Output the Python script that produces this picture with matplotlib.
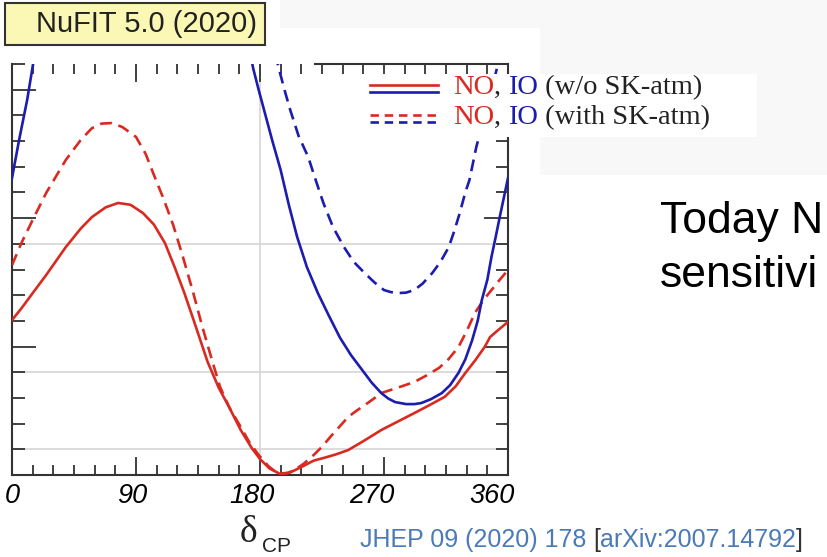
import numpy as np
import matplotlib.pyplot as plt
from matplotlib.patches import Rectangle
from matplotlib.transforms import ScaledTranslation

# delta_CP (deg) and Delta chi^2
no_wo_x = [0, 7, 15, 25, 39, 50, 58, 68, 77, 86, 95, 103, 111, 118, 125, 132, 137, 142, 150, 158, 166, 174,
           180, 187, 195, 202, 210, 219, 226, 235, 244, 256, 268, 280, 292, 303, 314, 322, 329, 336, 343, 347, 353, 360]
no_wo_y = [6.03, 6.5, 7.08, 7.8, 8.87, 9.6, 10.04, 10.42, 10.59, 10.52, 10.20, 9.75, 9.03, 8.1, 7.1, 6.0, 5.2, 4.4,
           3.4, 2.6, 1.75, 1.05, 0.62, 0.25, 0.03, 0.1, 0.31, 0.56, 0.66, 0.8, 0.97, 1.35, 1.75, 2.08, 2.41, 2.72,
           3.04, 3.45, 3.97, 4.45, 4.98, 5.37, 5.65, 5.96]

no_with_x = [0, 7, 15, 25, 39, 50, 58, 65, 72, 80, 90, 97, 103, 110, 117, 124, 131, 138, 145, 151, 158, 166, 172,
             179, 186, 193, 200, 205, 212, 219, 225, 231, 238, 244, 250, 256, 262, 268, 280, 292, 301, 310, 317,
             324, 330, 336, 342, 348, 354, 360]
no_with_y = [8.17, 9.05, 9.93, 11.0, 12.26, 13.05, 13.5, 13.68, 13.70, 13.55, 13.16, 12.5, 11.68, 10.75, 9.73, 8.5,
             7.20, 5.8, 4.5, 3.43, 2.6, 1.87, 1.3, 0.78, 0.35, 0.05, 0.08, 0.19, 0.45, 0.78, 1.1, 1.48, 1.9, 2.26,
             2.5, 2.72, 2.95, 3.19, 3.40, 3.62, 3.88, 4.17, 4.52, 4.98, 5.6, 6.31, 6.8, 7.20, 7.6, 7.98]

io_wo_x = [0, 5, 11, 15, 18, np.nan, 172, 175, 179, 183, 189, 195, 201, 207, 214, 222, 230, 238, 246, 254, 261,
           268, 273, 278, 286, 292, 297, 304, 312, 318, 324, 329, 334, 338, 341, 345, 348, 351, 354, 357, 360]
io_wo_y = [11.56, 13.0, 14.6, 15.9, 16.9, np.nan, 16.7, 15.84, 15.0, 14.2, 13.0, 11.87, 10.5, 9.26, 8.1, 7.08, 6.2,
           5.35, 4.67, 4.1, 3.6, 3.19, 2.98, 2.84, 2.76, 2.76, 2.80, 2.95, 3.19, 3.5, 3.97, 4.5, 5.25, 6.0, 6.81,
           7.6, 8.49, 9.25, 10.04, 10.8, 11.56]

io_with_x = [191, 194, 198, 202, 208, 215, 220, 226, 233, 241, 248, 256, 263, 270, 275, 280, 286, 292, 298, 305,
             311, 317, 321, 325, 329, 332, 337, 341, 345, 349, 352, 356]
io_with_y = [16.4, 15.76, 14.95, 14.2, 13.2, 12.38, 11.55, 10.59, 9.65, 8.87, 8.3, 7.86, 7.5, 7.20, 7.12, 7.08, 7.1,
             7.20, 7.45, 7.86, 8.3, 8.87, 9.5, 10.2, 11.0, 11.48, 12.77, 13.55, 14.4, 15.2, 15.84, 16.8]

grid_y = [1, 4, 9]
xticks = [0, 90, 180, 270, 360]

red = '#d92a22'
blue = '#1c1cae'
W, H = 827, 557


def fx(x):
    return x / W


def fy(y):
    return 1 - y / H


fig = plt.figure(figsize=(W / 100, H / 100), dpi=100)
fig.patch.set_facecolor('white')

# slide background bits
for (x0, y0, w, h, c) in [(540, 0, 287, 175, '#f8f8f8'), (280, 0, 260, 28, '#f8f8f8')]:
    fig.patches.append(Rectangle((fx(x0), fy(y0 + h)), w / W, h / H, transform=fig.transFigure,
                                 facecolor=c, edgecolor='none', zorder=-1))

ax = fig.add_axes([fx(12), fy(475), fx(496), 411 / H])
ax.set_zorder(1)
ax.set_xlim(0, 360)
ax.set_ylim(0, 16)
ax.patch.set_alpha(0)

for g in grid_y:
    ax.axhline(g, color='#d6d6d6', lw=1.2, zorder=1)
ax.axvline(180, color='#d6d6d6', lw=1.2, zorder=1)

ax.plot(no_wo_x, no_wo_y, color=red, lw=1.9, zorder=3)
ax.plot(no_with_x, no_with_y, color=red, lw=1.9, ls=(0, (4.5, 2.6)), zorder=3)
ax.plot(io_wo_x, io_wo_y, color=blue, lw=1.9, zorder=3)
ax.plot(io_with_x, io_with_y, color=blue, lw=1.9, ls=(0, (4.5, 2.6)), zorder=3)

for s in ax.spines.values():
    s.set_color('#333333')
    s.set_linewidth(1.5)
ax.spines['top'].set_visible(False)
ax.plot([0.61, 1], [1, 1], transform=ax.transAxes, color='#333333', lw=1.5, clip_on=False)

ax.set_xticks(xticks)
ax.set_xticks(np.arange(0, 361, 15), minor=True)
ax.set_yticks([0, 5, 10, 15])
ax.set_yticks(np.arange(0, 17, 1), minor=True)
ax.set_yticklabels([])
ax.set_xticklabels([str(t) for t in xticks], fontsize=19.5, fontstyle='italic',
                   family='Liberation Sans')
ax.tick_params(axis='x', which='both', direction='in', top=True, bottom=True, color='#333333', width=1.3, pad=6)
ax.tick_params(axis='x', which='major', length=13)
ax.tick_params(axis='x', which='minor', length=7)
ax.tick_params(axis='y', which='both', direction='in', left=True, right=True, color='#333333', width=1.3)
ax.tick_params(axis='y', which='major', length=17)
ax.tick_params(axis='y', which='minor', length=9)
for i, lab in enumerate(ax.get_xticklabels()):
    lab.set_transform(lab.get_transform() + ScaledTranslation(-0.04 * i, 0, fig.dpi_scale_trans))

# legend drawn by hand on a white box that hides the curves and the right spine
ax.add_patch(Rectangle((0.712, 0.822), 0.79, 0.154, transform=ax.transAxes, facecolor='white',
                       edgecolor='none', zorder=4, clip_on=False))
lx = [0.722, 0.859]
ax.plot(lx, [0.949, 0.949], transform=ax.transAxes, color=red, lw=1.9, clip_on=False, zorder=5)
ax.plot(lx, [0.932, 0.932], transform=ax.transAxes, color=blue, lw=1.9, clip_on=False, zorder=5)
ax.plot(lx, [0.876, 0.876], transform=ax.transAxes, color=red, lw=1.9, ls=(0, (3.2, 2.2)), clip_on=False, zorder=5)
ax.plot(lx, [0.859, 0.859], transform=ax.transAxes, color=blue, lw=1.9, ls=(0, (3.2, 2.2)), clip_on=False, zorder=5)

for ypos, tail in [(0.942, ' (w/o SK-atm)'), (0.869, ' (with SK-atm)')]:
    t = ax.text(0.889, ypos, 'NO', transform=ax.transAxes, color=red, fontsize=20.5,
                family='Liberation Serif', va='center', clip_on=False, zorder=6)
    for s, c in [(', ', '#222222'), ('IO', blue), (tail, '#222222')]:
        t = ax.annotate(s, xy=(1, 0), xycoords=t, va='bottom', color=c, fontsize=20.5,
                        family='Liberation Serif', annotation_clip=False, zorder=6)

# x label
fig.text(fx(248), fy(533), '\u03b4', fontsize=27, family='Liberation Serif', ha='center', va='center', color='#222222')
fig.text(fx(262), fy(546), 'CP', fontsize=15, family='Liberation Sans', ha='left', va='center', color='#222222')

# NuFIT tag
fig.patches.append(Rectangle((fx(5), fy(45)), fx(260), 42 / H, transform=fig.transFigure,
                             facecolor='#fbf8b6', edgecolor='#333333', lw=1.5, zorder=2))
fig.text(fx(147), fy(24), 'NuFIT 5.0 (2020)', fontsize=21, family='Liberation Sans',
         ha='center', va='center', color='#222222', zorder=3)

# slide text on the right
fig.text(fx(660), fy(233), 'Today N', fontsize=32, family='Liberation Sans', va='baseline', color='black')
fig.text(fx(660), fy(287), 'sensitivi', fontsize=32, family='Liberation Sans', va='baseline', color='black')

# reference
ref_blue = '#4a7ab8'
prev = fig.text(fx(360), fy(540), 'JHEP 09 (2020) 178 ', fontsize=18, family='Liberation Sans',
                va='center', color=ref_blue)
for s, c in [('[', '#333333'), ('arXiv:2007.14792', ref_blue), (']', '#333333')]:
    prev = fig.add_artist(plt.Annotation(s, xy=(1, 0), xycoords=prev, va='bottom', color=c,
                                         fontsize=18, family='Liberation Sans'))

fig.savefig('out.png', dpi=100)
